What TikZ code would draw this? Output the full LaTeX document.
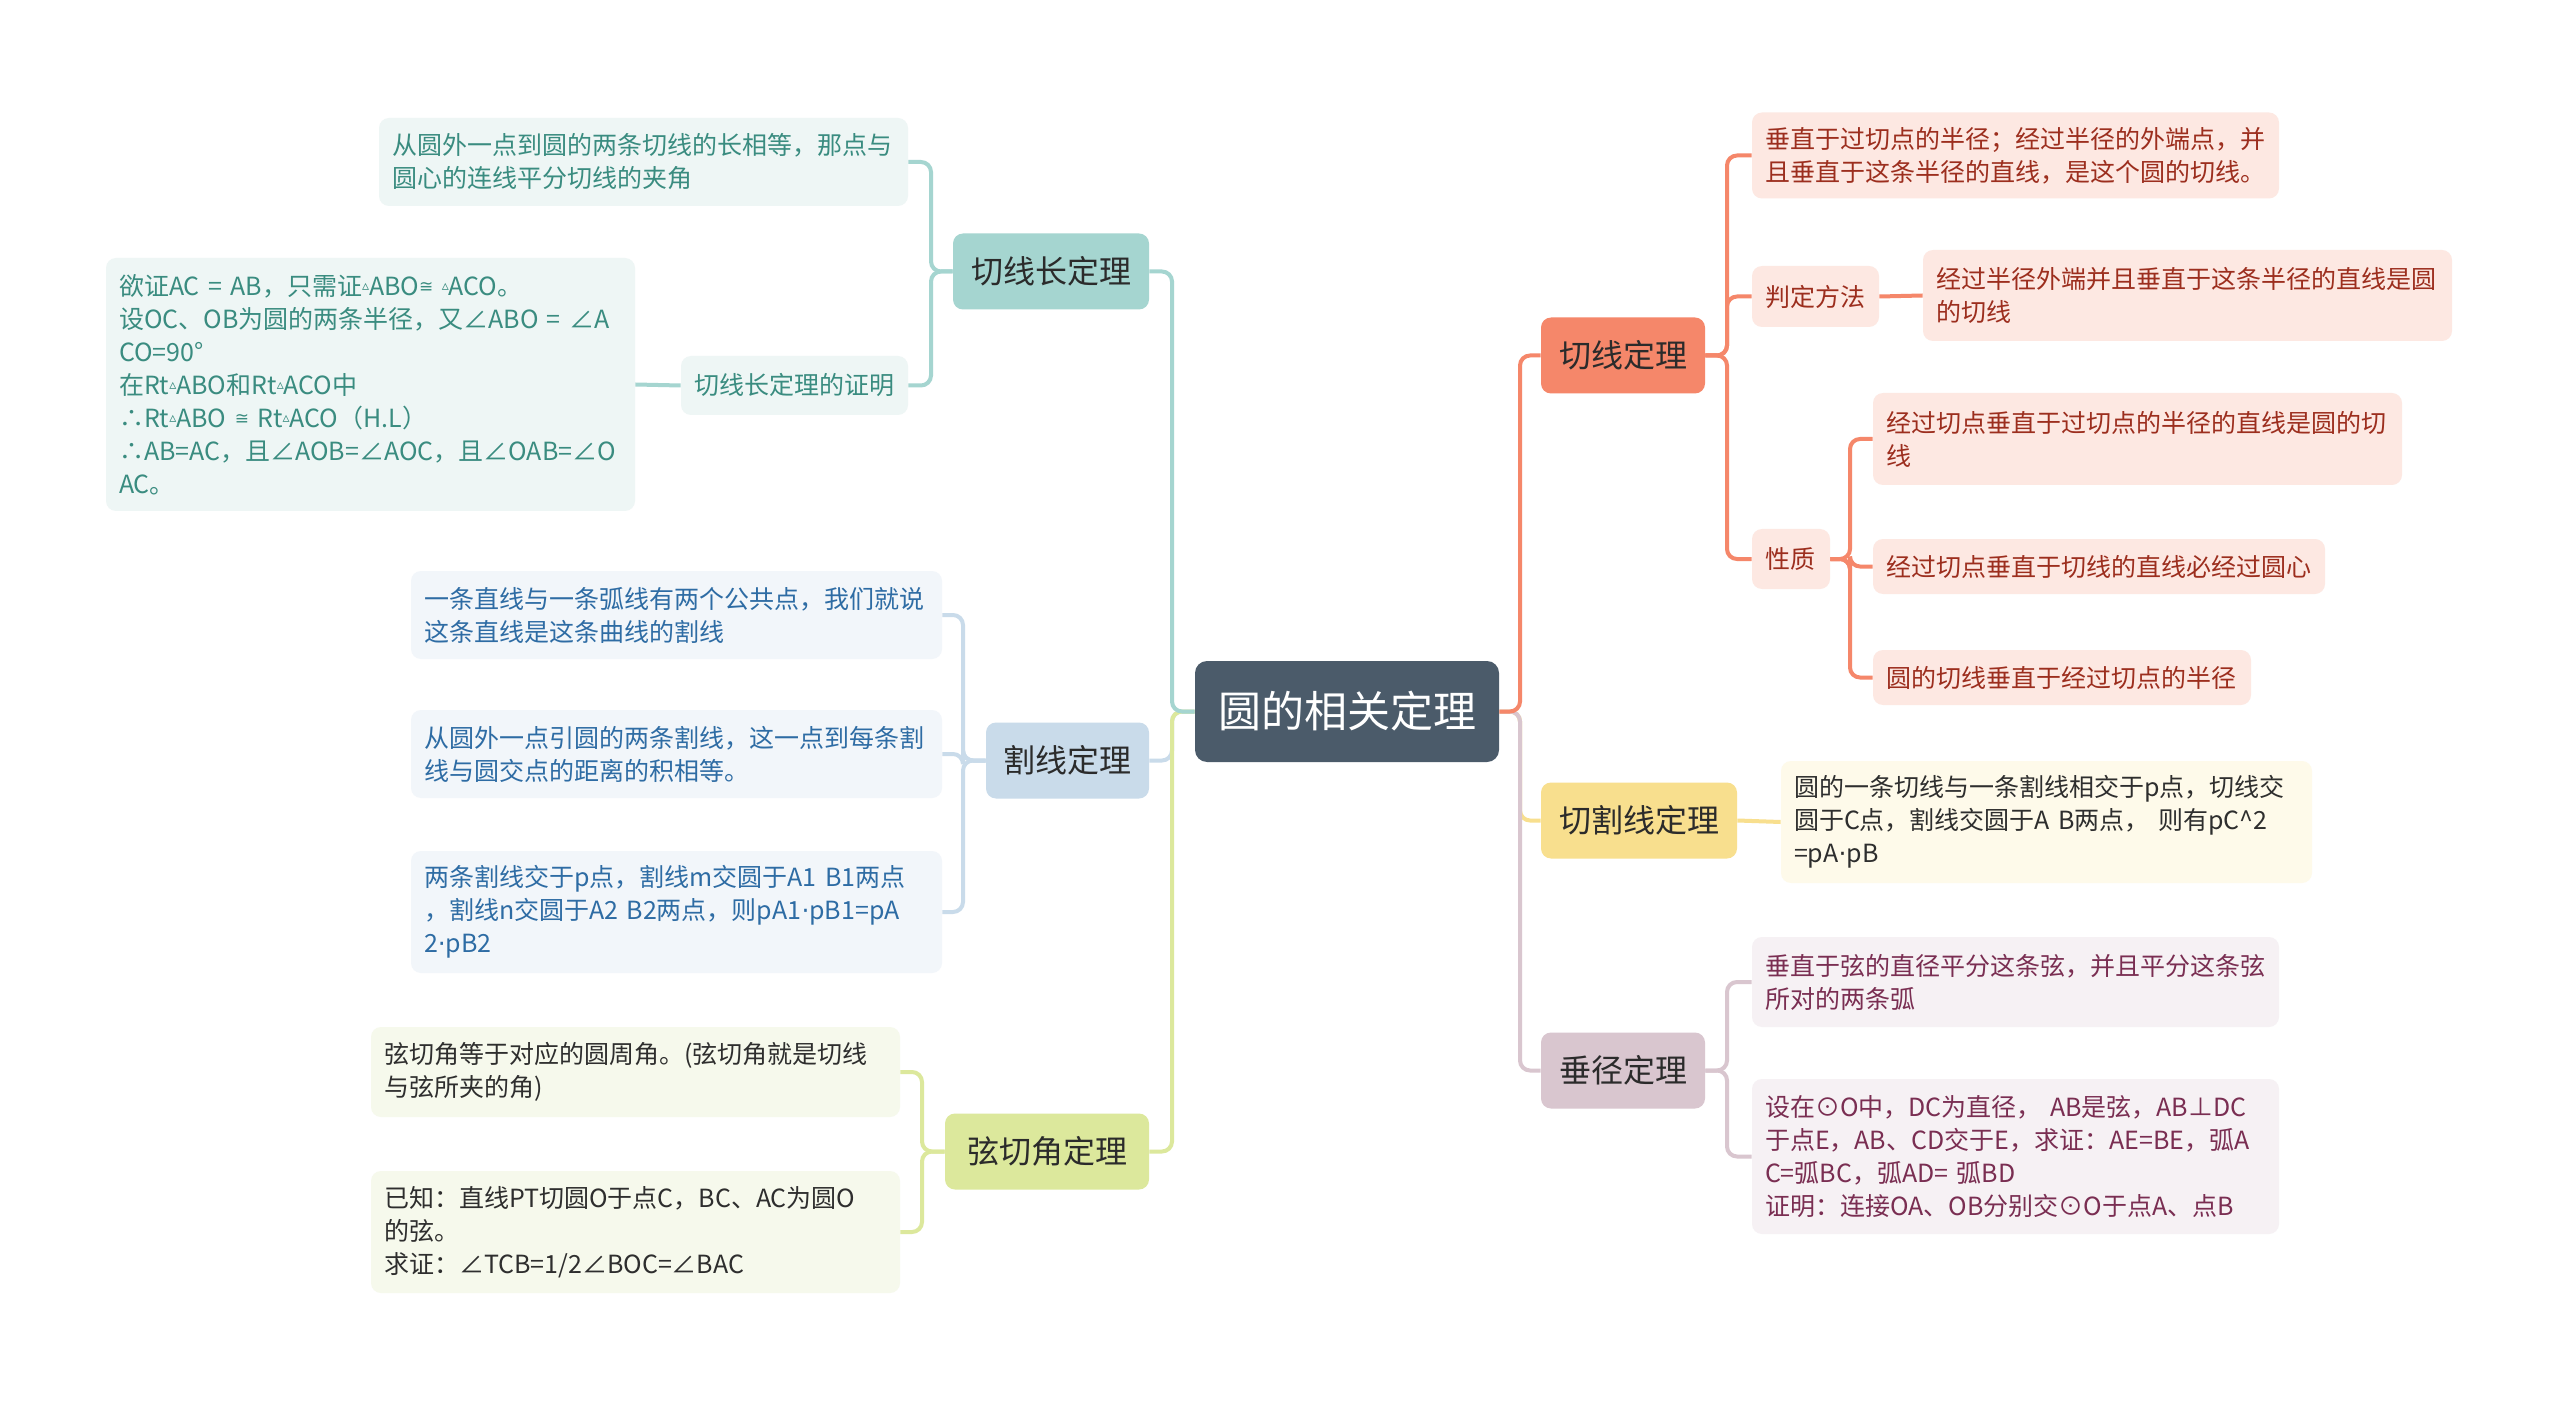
\documentclass[tikz,border=0pt]{standalone}
\usepackage{fontspec}
\setmainfont{Noto Sans CJK SC}
\newfontfamily\dvs{DejaVu Sans}
\newcommand{\tri}{\raisebox{2.2pt}{\dvs\fontsize{7}{7}\selectfont ▵}}
\newcommand{\myeq}{\raisebox{1.2pt}{\dvs\fontsize{8.5}{8.5}\selectfont ≅}}
\newcommand{\mdot}{{\dvs ·}}
\definecolor{rootc}{HTML}{4B5B6A}
\definecolor{tealM}{HTML}{A5D5D0}
\definecolor{tealL}{HTML}{EEF6F5}
\definecolor{tealT}{HTML}{3A8C80}
\definecolor{blueM}{HTML}{C9DBEA}
\definecolor{blueL}{HTML}{F2F6FA}
\definecolor{blueT}{HTML}{2E6CA4}
\definecolor{greenM}{HTML}{DCE89C}
\definecolor{greenL}{HTML}{F6F9EC}
\definecolor{greenT}{HTML}{2E2E2E}
\definecolor{orgM}{HTML}{F5876A}
\definecolor{orgL}{HTML}{FDE8E2}
\definecolor{orgT}{HTML}{9C2E1E}
\definecolor{yelM}{HTML}{F8DF8E}
\definecolor{yelL}{HTML}{FEFAEA}
\definecolor{yelT}{HTML}{2E2E2E}
\definecolor{mauM}{HTML}{D9C6CF}
\definecolor{mauL}{HTML}{F6F1F4}
\definecolor{mauT}{HTML}{7A2E52}
\definecolor{txtD}{HTML}{2B2B2B}
\begin{document}
\begin{tikzpicture}[x=0.5pt,y=-0.5pt,
  rootbox/.style={rounded corners=6pt, fill=rootc, text=white, font=\fontsize{21.5}{26}\selectfont, minimum width=152pt, minimum height=50.5pt, inner sep=0pt},
  mainbox/.style={rounded corners=5pt, text=txtD, font=\fontsize{16}{20}\selectfont, minimum height=38pt, inner sep=0pt},
  leaf/.style={rounded corners=5pt, font=\fontsize{12.5}{16.5}\selectfont, align=left, inner xsep=6.5pt, inner ysep=0pt},
  conn/.style={line width=2pt, rounded corners=5pt}
]
\useasboundingbox (0,0) rectangle (2560,1401);
\fill[white] (0,0) rectangle (2560,1401);

% root
\node[rootbox] (root) at (1347,711.5) {圆的相关定理};

% main nodes left
\node[mainbox, fill=tealM, minimum width=98pt] (T1) at (1051,271.5) {切线长定理};
\node[mainbox, fill=blueM, minimum width=81.5pt] (T2) at (1067.5,760.5) {割线定理};
\node[mainbox, fill=greenM, minimum width=102pt] (T3) at (1047,1151.5) {弦切角定理};
% main nodes right
\node[mainbox, fill=orgM, minimum width=82pt] (R1) at (1623,355.5) {切线定理};
\node[mainbox, fill=yelM, minimum width=98pt] (R2) at (1639,820.5) {切割线定理};
\node[mainbox, fill=mauM, minimum width=82pt] (R3) at (1623,1070.5) {垂径定理};

% T1 children
\node[leaf, fill=tealL, text=tealT, text width=251.5pt, minimum height=44pt] (T1a) at (643.5,162) {从圆外一点到圆的两条切线的长相等，那点与\\圆心的连线平分切线的夹角};
\node[leaf, fill=tealL, text=tealT, text width=100.5pt, minimum height=29.5pt] (T1b) at (794.5,385.5) {切线长定理的证明};
\node[leaf, fill=tealL, text=tealT, text width=251.5pt, minimum height=126.5pt] (T1p) at (370.5,384.5) {欲证AC = AB，只需证\tri ABO\myeq{} \tri ACO。\\设OC、OB为圆的两条半径，又∠ABO = ∠A\\CO=90°\\在Rt\tri ABO和Rt\tri ACO中\\∴Rt\tri ABO \myeq{} Rt\tri ACO（H.L）\\∴AB=AC，且∠AOB=∠AOC，且∠OAB=∠O\\AC。};

% T2 children
\node[leaf, fill=blueL, text=blueT, text width=252.5pt, minimum height=44pt] (T2a) at (676.5,615) {一条直线与一条弧线有两个公共点，我们就说\\这条直线是这条曲线的割线};
\node[leaf, fill=blueL, text=blueT, text width=252.5pt, minimum height=44pt] (T2b) at (676.5,754) {从圆外一点引圆的两条割线，这一点到每条割\\线与圆交点的距离的积相等。};
\node[leaf, fill=blueL, text=blueT, text width=252.5pt, minimum height=61pt] (T2c) at (676.5,912) {两条割线交于p点，割线m交圆于A1 B1两点\\，割线n交圆于A2 B2两点，则pA1\mdot pB1=pA\\2\mdot pB2};

% T3 children
\node[leaf, fill=greenL, text=greenT, text width=251.5pt, minimum height=45pt] (T3a) at (635.5,1072) {弦切角等于对应的圆周角。(弦切角就是切线\\与弦所夹的角)};
\node[leaf, fill=greenL, text=greenT, text width=251.5pt, minimum height=61pt] (T3b) at (635.5,1232) {已知：直线PT切圆O于点C，BC、AC为圆O\\的弦。\\求证：∠TCB=1/2∠BOC=∠BAC};

% R1 children
\node[leaf, fill=orgL, text=orgT, text width=250.5pt, minimum height=43pt] (R1a) at (2015.5,155.5) {垂直于过切点的半径；经过半径的外端点，并\\且垂直于这条半径的直线，是这个圆的切线。};
\node[leaf, fill=orgL, text=orgT, text width=50.5pt, minimum height=30.5pt] (R1b) at (1815.5,296.5) {判定方法};
\node[leaf, fill=orgL, text=orgT, text width=251.5pt, minimum height=45.5pt] (R1bc) at (2187.5,295.5) {经过半径外端并且垂直于这条半径的直线是圆\\的切线};
\node[leaf, fill=orgL, text=orgT, text width=26pt, minimum height=30pt] (R1c) at (1791,559) {性质};
\node[leaf, fill=orgL, text=orgT, text width=251.5pt, minimum height=46pt] (R1c1) at (2137.5,439) {经过切点垂直于过切点的半径的直线是圆的切\\线};
\node[leaf, fill=orgL, text=orgT, text width=213pt, minimum height=27.5pt] (R1c2) at (2099,566.5) {经过切点垂直于切线的直线必经过圆心};
\node[leaf, fill=orgL, text=orgT, text width=176pt, minimum height=27.5pt] (R1c3) at (2062,677.5) {圆的切线垂直于经过切点的半径};

% R2 child
\node[leaf, fill=yelL, text=yelT, text width=252.5pt, minimum height=61pt] (R2a) at (2046.5,822) {圆的一条切线与一条割线相交于p点，切线交\\圆于C点，割线交圆于A B两点，  则有pC\textasciicircum 2\\=pA\mdot pB};

% R3 children
\node[leaf, fill=mauL, text=mauT, text width=250.5pt, minimum height=45pt] (R3a) at (2015.5,982) {垂直于弦的直径平分这条弦，并且平分这条弦\\所对的两条弧};
\node[leaf, fill=mauL, text=mauT, text width=250.5pt, minimum height=77.5pt] (R3b) at (2015.5,1156.5) {设在⊙O中，DC为直径， AB是弦，AB⊥DC\\于点E，AB、CD交于E，求证：AE=BE，弧A\\C=弧BC，弧AD= 弧BD\\证明：连接OA、OB分别交⊙O于点A、点B};

% root connectors left
\draw[conn, blueM] (root.west) -- (1172,711.5) |- (T2.east);
\draw[conn, greenM] (root.west) -- (1172,711.5) |- (T3.east);
\draw[conn, tealM] (root.west) -- (1172,711.5) |- (T1.east);
% root connectors right
\draw[conn, yelM] (root.east) -- (1520,711.5) |- (R2.west);
\draw[conn, mauM] (root.east) -- (1520,711.5) |- (R3.west);
\draw[conn, orgM] (root.east) -- (1520,711.5) |- (R1.west);

% T1
\draw[conn, tealM] (T1.west) -- (931,271.5) |- (T1a.east);
\draw[conn, tealM] (T1.west) -- (931,271.5) |- (T1b.east);
\draw[conn, tealM] (T1b.west) -- (T1p.east);
% T2
\draw[conn, blueM] (T2.west) -- (963,760.5) |- (T2a.east);
\draw[conn, blueM] (T2.west) -- (963,760.5) |- (T2b.east);
\draw[conn, blueM] (T2.west) -- (963,760.5) |- (T2c.east);
% T3
\draw[conn, greenM] (T3.west) -- (922,1151.5) |- (T3a.east);
\draw[conn, greenM] (T3.west) -- (922,1151.5) |- (T3b.east);
% R1
\draw[conn, orgM] (R1.east) -- (1727,355.5) |- (R1a.west);
\draw[conn, orgM] (R1.east) -- (1727,355.5) |- (R1b.west);
\draw[conn, orgM] (R1.east) -- (1727,355.5) |- (R1c.west);
\draw[conn, orgM] (R1b.east) -- (R1bc.west);
\draw[conn, orgM] (R1c.east) -- (1850,559) |- (R1c1.west);
\draw[conn, orgM] (R1c.east) -- (1850,559) |- (R1c2.west);
\draw[conn, orgM] (R1c.east) -- (1850,559) |- (R1c3.west);
% R2
\draw[conn, yelM] (R2.east) -- (R2a.west);
% R3
\draw[conn, mauM] (R3.east) -- (1727,1070.5) |- (R3a.west);
\draw[conn, mauM] (R3.east) -- (1727,1070.5) |- (R3b.west);
\end{tikzpicture}
\end{document}
